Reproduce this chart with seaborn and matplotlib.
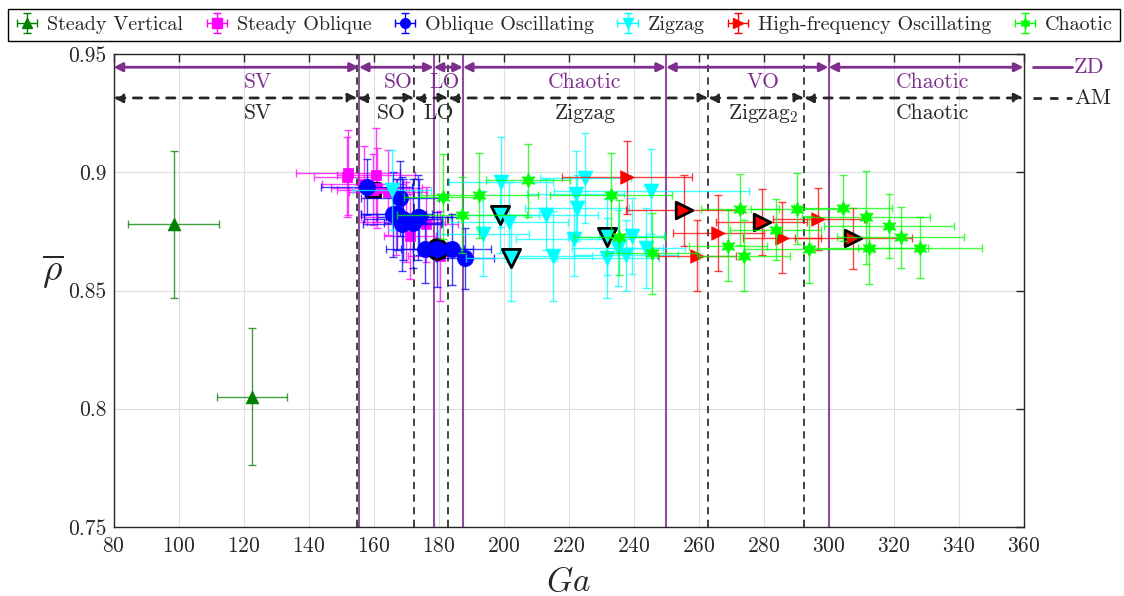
import numpy as np
import matplotlib
matplotlib.use('Agg')
import matplotlib.pyplot as plt
import seaborn as sns

# ---- data ----
# Steady Vertical
sv_ga = [98.6, 122.7]
sv_rho = [0.878, 0.805]
sv_ga_err = [14.0, 10.8]
sv_rho_err = [0.031, 0.029]
sv_edge = [0, 0]

# Steady Oblique
so_ga = [152.3, 151.8, 160.8, 157.0, 161.0, 164.5, 159.8, 167.0, 170.0, 171.2, 176.0, 180.5]
so_rho = [0.8998, 0.8981, 0.8989, 0.8950, 0.8935, 0.8915, 0.8927, 0.8810, 0.8790, 0.8730, 0.8780, 0.8646]
so_ga_err = [16.0, 10.0, 12.0, 13.0, 14.0, 12.0, 11.0, 11.0, 12.0, 8.0, 10.0, 10.0]
so_rho_err = [0.018, 0.017, 0.020, 0.016, 0.017, 0.018, 0.015, 0.016, 0.017, 0.018, 0.016, 0.019]
so_edge = [0, 0, 0, 0, 0, 0, 1, 0, 0, 0, 0, 0]

# Oblique Oscillating
oo_ga = [157.9, 168.2, 166.1, 167.1, 169.2, 172.2, 174.1, 168.7, 173.8, 175.8, 179.6, 184.1, 188.2]
oo_rho = [0.8938, 0.8890, 0.8822, 0.8822, 0.8801, 0.8784, 0.8812, 0.8782, 0.8810, 0.8674, 0.8674, 0.8674, 0.8636]
oo_ga_err = [14.0, 12.0, 10.0, 11.0, 12.0, 9.0, 13.0, 12.0, 10.0, 12.0, 11.0, 12.0, 9.0]
oo_rho_err = [0.012, 0.016, 0.018, 0.015, 0.017, 0.019, 0.016, 0.020, 0.018, 0.014, 0.016, 0.015, 0.013]
oo_edge = [0, 0, 0, 0, 0, 0, 0, 0, 0, 0, 1, 0, 0]

# Zigzag
zz_ga = [165.6, 193.8, 199.1, 201.7, 213.1, 215.3, 221.7, 222.2, 222.7, 225.1, 231.7,
         235.1, 237.7, 239.4, 243.8, 245.4, 199.0, 202.4, 231.7]
zz_rho = [0.8925, 0.8740, 0.8960, 0.8790, 0.8820, 0.8645, 0.8720, 0.8910, 0.8850, 0.8975, 0.8637,
          0.8680, 0.8650, 0.8730, 0.8680, 0.8920, 0.8820, 0.8637, 0.8727]
zz_ga_err = [12.0, 14.0, 16.0, 18.0, 16.0, 12.0, 18.0, 15.0, 16.0, 14.0, 16.0,
             14.0, 16.0, 10.0, 12.0, 30.0, 12.0, 14.0, 12.0]
zz_rho_err = [0.017, 0.018, 0.019, 0.017, 0.015, 0.019, 0.016, 0.018, 0.014, 0.019, 0.017,
              0.016, 0.015, 0.016, 0.017, 0.018, 0.016, 0.018, 0.016]
zz_edge = [0, 0, 0, 0, 0, 0, 0, 0, 0, 0, 0, 0, 0, 0, 0, 0, 1, 1, 1]

# High-frequency Oscillating
hf_ga = [237.9, 255.6, 259.4, 266.1, 279.5, 285.6, 296.9, 307.6]
hf_rho = [0.8979, 0.8840, 0.8647, 0.8743, 0.8790, 0.8723, 0.8803, 0.8721]
hf_ga_err = [20.0, 18.0, 12.0, 14.0, 14.0, 12.0, 14.0, 18.0]
hf_rho_err = [0.0155, 0.015, 0.015, 0.016, 0.014, 0.015, 0.013, 0.013]
hf_edge = [0, 1, 0, 0, 1, 0, 0, 1]

# Chaotic
ch_ga = [181.3, 187.1, 192.6, 207.6, 233.0, 235.6, 245.6, 269.2, 272.8, 274.0, 283.8,
         290.2, 294.1, 304.4, 311.5, 312.6, 318.7, 322.2, 328.2]
ch_rho = [0.8897, 0.8820, 0.8904, 0.8967, 0.8904, 0.8725, 0.8657, 0.8689, 0.8843, 0.8647, 0.8758,
          0.8847, 0.8674, 0.8850, 0.8810, 0.8678, 0.8774, 0.8725, 0.8682]
ch_ga_err = [12.0, 20.0, 18.0, 13.0, 18.7, 14.0, 14.0, 12.0, 12.0, 14.0, 14.0,
             14.0, 20.0, 15.0, 19.7, 18.0, 20.0, 19.5, 19.0]
ch_rho_err = [0.018, 0.016, 0.018, 0.0155, 0.018, 0.016, 0.017, 0.015, 0.015, 0.015, 0.013,
              0.015, 0.014, 0.014, 0.0198, 0.015, 0.0135, 0.013, 0.013]
ch_edge = [0] * 19

# regime boundaries and labels
zd_bounds = [80, 155.5, 178.5, 187.5, 250, 300, 360]
zd_labels = ['SV', 'SO', 'LO', 'Chaotic', 'VO', 'Chaotic']
zd_label_x = [124.5, 167.5, 182.0, 225.0, 280.0, 332.0]
am_bounds = [80, 155, 172.5, 183, 263, 292.5, 360]
am_labels = ['SV', 'SO', 'LO', 'Zigzag', 'Zigzag$_2$', 'Chaotic']
am_label_x = [124.5, 165.4, 180.0, 225.0, 280.0, 332.0]

sns.set_style('white')
plt.rcParams['font.family'] = ['cmr10', 'DejaVu Serif']
plt.rcParams['mathtext.fontset'] = 'cm'
plt.rcParams['axes.formatter.use_mathtext'] = True
plt.rcParams['axes.unicode_minus'] = False

PURPLE = '#7E2F8E'
series = [
    ('Steady Vertical', sv_ga, sv_rho, sv_ga_err, sv_rho_err, sv_edge, '#008000', '^', 85),
    ('Steady Oblique', so_ga, so_rho, so_ga_err, so_rho_err, so_edge, '#FF00FF', 's', 60),
    ('Oblique Oscillating', oo_ga, oo_rho, oo_ga_err, oo_rho_err, oo_edge, '#0000FF', 'o', 135),
    ('Zigzag', zz_ga, zz_rho, zz_ga_err, zz_rho_err, zz_edge, '#00FFFF', 'v', 115),
    ('High-frequency Oscillating', hf_ga, hf_rho, hf_ga_err, hf_rho_err, hf_edge, '#FF0000', '>', 95),
    ('Chaotic', ch_ga, ch_rho, ch_ga_err, ch_rho_err, ch_edge, '#00FF00', (6, 1, 0), 115),
]

fig = plt.figure(figsize=(11.24, 5.96), dpi=100)
ax = fig.add_axes([0.101, 0.116, 0.8096, 0.793])

handles = []
labels = []
for i, (name, gx, ry, gxe, rye, edge, col, mk, sz) in enumerate(series):
    z = 3 + i
    ax.errorbar(gx, ry, xerr=gxe, yerr=rye, fmt='none', ecolor=col, elinewidth=1.0,
                capsize=3, capthick=1.0, alpha=0.75, zorder=z)
    edge = np.array(edge, dtype=bool)
    gx = np.array(gx)
    ry = np.array(ry)
    sns.scatterplot(x=gx[~edge], y=ry[~edge], marker=mk, s=sz, color=col, edgecolor=col,
                    linewidth=0.5, ax=ax, zorder=z + 0.5, legend=False)
    if edge.any():
        sns.scatterplot(x=gx[edge], y=ry[edge], marker=mk, s=sz * 1.5, color=col,
                        edgecolor='black', linewidth=2, ax=ax, zorder=z + 0.3, legend=False)
    h = ax.errorbar([np.nan], [np.nan], xerr=[1], yerr=[0.01], fmt='', marker=mk,
                    linestyle='none', color=col, ms=7, mec=col, elinewidth=1, capsize=3)
    handles.append(h)
    labels.append(name)

# regime boundary lines
for xb in zd_bounds[1:-1]:
    ax.axvline(xb, color=PURPLE, lw=1.5, alpha=0.85, zorder=2)
for xb in am_bounds[1:-1]:
    ax.axvline(xb, color='#333333', lw=1.3, ls=(0, (4, 3)), zorder=2)

# regime arrows
y_zd, y_am = 0.9445, 0.9315
for k in range(len(zd_labels)):
    ax.annotate('', xy=(zd_bounds[k + 1], y_zd), xytext=(zd_bounds[k], y_zd),
                arrowprops=dict(arrowstyle='<|-|>', color=PURPLE, lw=2,
                                shrinkA=0, shrinkB=0, mutation_scale=13), zorder=14)
    ax.text(zd_label_x[k], 0.9382, zd_labels[k], color=PURPLE, fontsize=15.5,
            ha='center', va='center', zorder=14)
for k in range(len(am_labels)):
    ax.annotate('', xy=(am_bounds[k + 1], y_am), xytext=(am_bounds[k], y_am),
                arrowprops=dict(arrowstyle='<|-|>', color='#262626', lw=2, ls=(0, (3, 3)),
                                shrinkA=0, shrinkB=0, mutation_scale=13), zorder=14)
    ax.text(am_label_x[k], 0.925, am_labels[k], color='#262626', fontsize=15.5,
            ha='center', va='center', zorder=14)

# ZD / AM keys outside the axes
ax.plot([363, 375], [y_zd, y_zd], color=PURPLE, lw=2, clip_on=False)
ax.text(375.5, y_zd, 'ZD', color=PURPLE, fontsize=16, va='center', ha='left')
ax.plot([363, 375], [y_am, y_am], color='#262626', lw=2, ls=(0, (3, 3)), clip_on=False)
ax.text(375.5, y_am, 'AM', color='#262626', fontsize=16, va='center', ha='left')

ax.set_xlim(80, 360)
ax.set_ylim(0.75, 0.95)
ax.set_xticks(np.arange(80, 361, 20))
ax.set_yticks([0.75, 0.8, 0.85, 0.9, 0.95])
ax.set_yticklabels(['0.75', '0.8', '0.85', '0.9', '0.95'])
ax.tick_params(direction='in', top=True, right=True, length=6, width=1, labelsize=15.5,
               colors='#262626')
ax.tick_params(axis='x', pad=7)
ax.tick_params(axis='y', pad=5)
ax.grid(True, color='#dddddd', lw=0.8)
ax.set_axisbelow(True)
for sp in ax.spines.values():
    sp.set_color('#262626')
    sp.set_linewidth(1.0)

ax.set_xlabel('$Ga$', fontsize=24, labelpad=8)
fig.text(53 / 1124, 1 - 272 / 596, r'$\overline{\rho}$', fontsize=27, ha='center', va='center')

fig.legend(handles, labels, loc='lower left', mode='expand', ncol=6,
           bbox_to_anchor=(8 / 1124, 1 - 41 / 596, 1112 / 1124, 38 / 596),
           borderaxespad=0, fancybox=False, edgecolor='black', framealpha=1,
           fontsize=14.5, handlelength=1.2, handletextpad=0.4, columnspacing=0.6,
           borderpad=0.35)

fig.savefig('out.png', dpi=100)
